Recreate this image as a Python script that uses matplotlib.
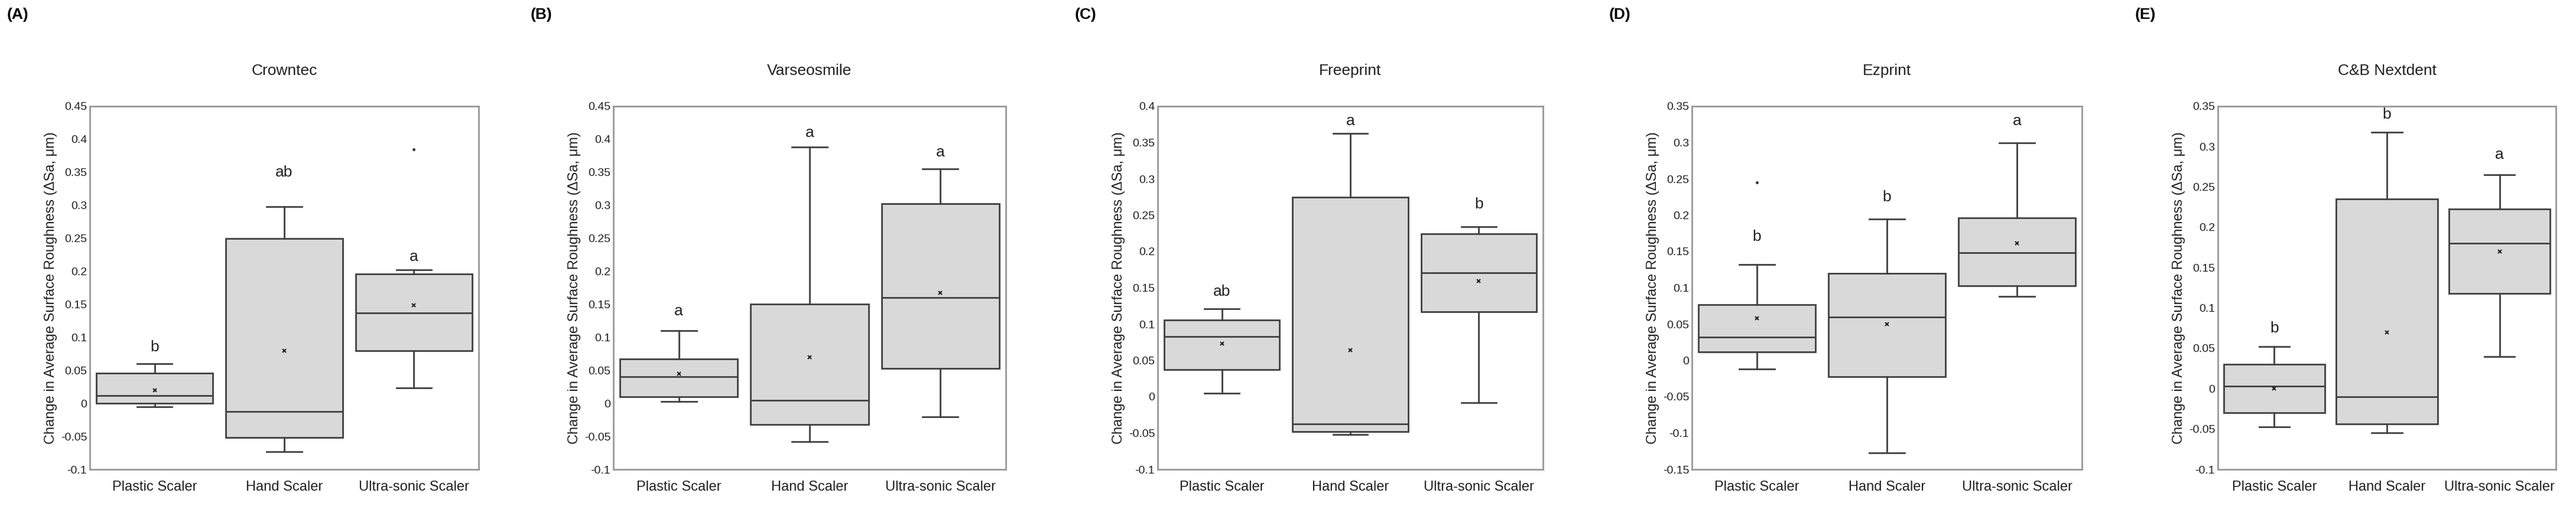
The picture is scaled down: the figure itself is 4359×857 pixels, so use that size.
import matplotlib
matplotlib.use("Agg")
import matplotlib.pyplot as plt

plt.rcParams['font.family'] = ['Liberation Sans', 'DejaVu Sans']

groups = ["Plastic Scaler", "Hand Scaler", "Ultra-sonic Scaler"]
titles = ["Crowntec", "Varseosmile", "Freeprint", "Ezprint", "C&B Nextdent"]
panel_labels = ["(A)", "(B)", "(C)", "(D)", "(E)"]

# per panel: [lo, q1, med, q3, hi, mean] for each group
crowntec = [[-0.005, 0.0, 0.012, 0.046, 0.06, 0.02],
            [-0.073, -0.052, -0.012, 0.25, 0.298, 0.08],
            [0.023, 0.08, 0.137, 0.196, 0.202, 0.149]]
varseosmile = [[0.003, 0.01, 0.04, 0.067, 0.11, 0.045],
               [-0.058, -0.032, 0.005, 0.15, 0.388, 0.07],
               [-0.02, 0.053, 0.16, 0.302, 0.355, 0.167]]
freeprint = [[0.005, 0.037, 0.083, 0.106, 0.121, 0.073],
             [-0.052, -0.048, -0.037, 0.275, 0.363, 0.064],
             [-0.008, 0.117, 0.171, 0.224, 0.234, 0.159]]
ezprint = [[-0.012, 0.012, 0.032, 0.077, 0.132, 0.058],
           [-0.127, -0.022, 0.06, 0.12, 0.195, 0.05],
           [0.088, 0.103, 0.148, 0.196, 0.3, 0.161]]
nextdent = [[-0.047, -0.03, 0.003, 0.03, 0.052, 0.0],
            [-0.055, -0.044, -0.01, 0.235, 0.318, 0.07],
            [0.04, 0.118, 0.18, 0.223, 0.265, 0.17]]
outliers = [[[], [], [0.385]], [[], [], []], [[], [], []],
            [[0.245], [], []], [[], [], []]]
letters = [["b", "ab", "a"], ["a", "a", "a"], ["ab", "a", "b"],
           ["b", "b", "a"], ["b", "b", "a"]]
letter_y = [[0.085, 0.35, 0.222], [0.14, 0.41, 0.38], [0.145, 0.38, 0.265],
            [0.17, 0.225, 0.33], [0.075, 0.34, 0.29]]
ylims = [(-0.1, 0.45), (-0.1, 0.45), (-0.1, 0.4), (-0.15, 0.35), (-0.1, 0.35)]
data = [crowntec, varseosmile, freeprint, ezprint, nextdent]

fig = plt.figure(figsize=(43.59, 8.57), dpi=100)
lefts = [152, 1038, 1959, 2863, 3753]
widths = [658, 664, 652, 660, 572]
for p in range(5):
    ax = fig.add_axes([lefts[p] / 4359, (857 - 795) / 857, widths[p] / 4359, (795 - 180) / 857])
    stats = []
    for g in range(3):
        lo, q1, med, q3, hi, mean = data[p][g]
        stats.append(dict(whislo=lo, q1=q1, med=med, q3=q3, whishi=hi, mean=mean,
                          fliers=outliers[p][g], label=groups[g]))
    ax.bxp(stats, positions=[1, 2, 3], widths=0.9, patch_artist=True, showmeans=True,
           boxprops=dict(facecolor='#d9d9d9', edgecolor='#404040', linewidth=2),
           medianprops=dict(color='#404040', linewidth=2),
           whiskerprops=dict(color='#404040', linewidth=2),
           capprops=dict(color='#404040', linewidth=2),
           capwidths=0.27,
           meanprops=dict(marker='x', markeredgecolor='#222222', markersize=5, markeredgewidth=1.5),
           flierprops=dict(marker='o', markerfacecolor='#333333', markeredgecolor='#333333', markersize=2.5))
    for g in range(3):
        ax.text(g + 1, letter_y[p][g], letters[p][g], ha='center', va='center', fontsize=19, color='#222222')
    ax.set_xlim(0.5, 3.5)
    lo_, hi_ = ylims[p]
    ax.set_ylim(lo_, hi_)
    ticks = [round(lo_ + 0.05 * i, 2) for i in range(int(round((hi_ - lo_) / 0.05)) + 1)]
    ax.set_yticks(ticks)
    ax.set_yticklabels([f"{t:g}" for t in ticks])
    ax.tick_params(length=0, labelsize=14, colors='#222222')
    ax.tick_params(axis='x', labelsize=17, pad=14)
    for s in ax.spines.values():
        s.set_color('#999999')
        s.set_linewidth(2)
    ax.set_ylabel("Change in Average Surface Roughness (ΔSa, μm)", fontsize=17, color='#222222')
    ax.set_title(titles[p], fontsize=19, pad=38, color='#222222')
    fig.text((lefts[p] - 140) / 4359, 1 - 25 / 857, panel_labels[p], fontsize=19,
             fontweight='bold', va='center')

fig.savefig("out.png", dpi=100)
